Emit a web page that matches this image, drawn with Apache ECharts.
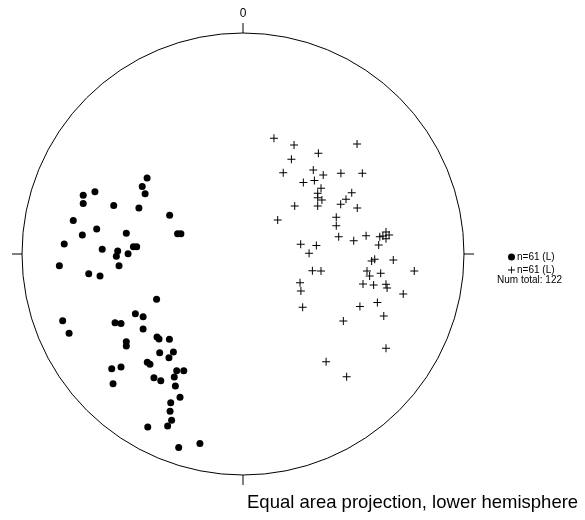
<!DOCTYPE html>
<html>
<head>
<meta charset="utf-8">
<script src="https://cdn.jsdelivr.net/npm/echarts@6/dist/echarts.min.js"></script>
<style>html,body{margin:0;padding:0;background:#fff}#c{width:585px;height:520px}</style>
</head>
<body>
<div id="c"></div>
<script>
// Projected positions on the unit net (x = east, y = north)
const dotX = [-0.434,-0.456,-0.443,-0.670,-0.723,-0.723,-0.585,-0.471,-0.332,-0.768,-0.662,-0.727,-0.528,-0.296,-0.281,-0.809,-0.496,-0.481,-0.637,-0.567,-0.520,-0.573,-0.831,-0.561,-0.698,-0.647,
  -0.391,-0.487,-0.452,-0.816,-0.579,-0.552,-0.787,-0.452,-0.528,-0.528,-0.389,-0.380,-0.333,-0.377,-0.315,-0.335,-0.594,-0.552,-0.433,-0.421,-0.588,-0.403,-0.372,-0.300,-0.268,-0.311,-0.306,-0.285,-0.327,-0.330,-0.323,-0.341,-0.431,-0.291,-0.195];
const dotY = [0.344,0.305,0.273,0.282,0.266,0.229,0.219,0.208,0.175,0.152,0.113,0.086,0.094,0.092,0.092,0.045,0.033,0.033,0.021,0.014,0.001,-0.010,-0.053,-0.053,-0.089,-0.100,
  -0.205,-0.270,-0.284,-0.302,-0.311,-0.314,-0.359,-0.339,-0.397,-0.416,-0.376,-0.385,-0.386,-0.447,-0.443,-0.469,-0.519,-0.511,-0.490,-0.499,-0.587,-0.560,-0.573,-0.528,-0.528,-0.557,-0.597,-0.648,-0.673,-0.712,-0.752,-0.778,-0.783,-0.876,-0.857];
const crossX = [0.140,0.231,0.516,0.341,0.219,0.182,0.318,0.363,0.443,0.540,0.273,0.323,0.353,0.338,0.338,0.492,0.466,0.442,0.234,0.338,0.517,0.157,0.422,0.422,0.647,0.661,0.433,0.501,0.557,0.619,0.647,0.261,0.332,0.614,0.299,0.582,0.596,0.680,0.314,0.353,0.561,0.573,0.623,0.775,0.258,0.543,0.591,0.647,0.262,0.652,0.725,0.270,0.529,0.608,0.637,0.454,0.647,0.376,0.469,0.633,0.357];
const crossY = [0.524,0.493,0.498,0.456,0.429,0.368,0.380,0.357,0.365,0.365,0.323,0.333,0.297,0.275,0.255,0.277,0.248,0.225,0.217,0.217,0.208,0.154,0.166,0.128,0.100,0.086,0.078,0.060,0.083,0.078,0.069,0.044,0.038,0.041,0.003,-0.032,-0.024,-0.027,-0.076,-0.077,-0.077,-0.100,-0.087,-0.077,-0.130,-0.136,-0.140,-0.137,-0.167,-0.154,-0.181,-0.241,-0.237,-0.220,-0.281,-0.303,-0.427,-0.487,-0.555,0.081,0.244];
const legendLabels = ['n=61 (L)', 'n=61 (L)'];
const totalLabel = 'Num total: 122';
const titleText = 'Equal area projection, lower hemisphere';
const northLabel = '0';

const FONT = 'Liberation Sans, Arial, sans-serif';
const CX = 243, CY = 254, R = 221;
const plus = 'path://M3.5,0h1v3.5h3.5v1h-3.5v3.5h-1v-3.5h-3.5v-1h3.5z';

const chart = echarts.init(document.getElementById('c'), null, {renderer: 'canvas'});
chart.setOption({
  animation: false,
  backgroundColor: '#fff',
  title: [
    {text: titleText, left: 247, top: 493, padding: 0, textStyle: {fontFamily: FONT, fontSize: 18.5, fontWeight: 'normal', color: '#000'}},
    {text: totalLabel, left: 497, top: 275, padding: 0, textStyle: {fontFamily: FONT, fontSize: 10, fontWeight: 'normal', color: '#000'}}
  ],
  legend: {
    orient: 'vertical', left: 508, top: 252, padding: 0, itemWidth: 7, itemHeight: 7, itemGap: 3,
    data: ['dots', 'crosses'],
    formatter: n => n === 'dots' ? legendLabels[0] : legendLabels[1],
    textStyle: {fontFamily: FONT, fontSize: 10, color: '#000', padding: [0, 0, 0, -3]},
    selectedMode: false
  },
  polar: {center: [CX, CY], radius: R},
  angleAxis: {
    type: 'value', min: 0, max: 360, interval: 90, startAngle: 90, clockwise: true,
    axisLine: {show: true, lineStyle: {color: '#000', width: 1}},
    axisTick: {show: true, inside: false, length: 10, lineStyle: {color: '#000', width: 1}},
    axisLabel: {show: true, margin: 13, fontFamily: FONT, fontSize: 12, color: '#000',
      formatter: v => (v === 0 ? northLabel : '')},
    splitLine: {show: false}
  },
  radiusAxis: {type: 'value', min: 0, max: 1, show: false, axisLine: {show: false}, splitLine: {show: false}, axisTick: {show: false}, axisLabel: {show: false}},
  grid: {left: CX - R, top: CY - R, width: 2 * R, height: 2 * R},
  xAxis: {type: 'value', min: -1, max: 1, show: false},
  yAxis: {type: 'value', min: -1, max: 1, show: false},
  series: [
    {name: 'dots', type: 'scatter', symbol: 'circle', symbolSize: 7,
      itemStyle: {color: '#000', opacity: 1}, data: dotX.map((x, i) => [x, dotY[i]])},
    {name: 'crosses', type: 'scatter', symbol: plus, symbolSize: 8,
      itemStyle: {color: '#000', opacity: 1}, data: crossX.map((x, i) => [x, crossY[i]])}
  ]
});
</script>
</body>
</html>
